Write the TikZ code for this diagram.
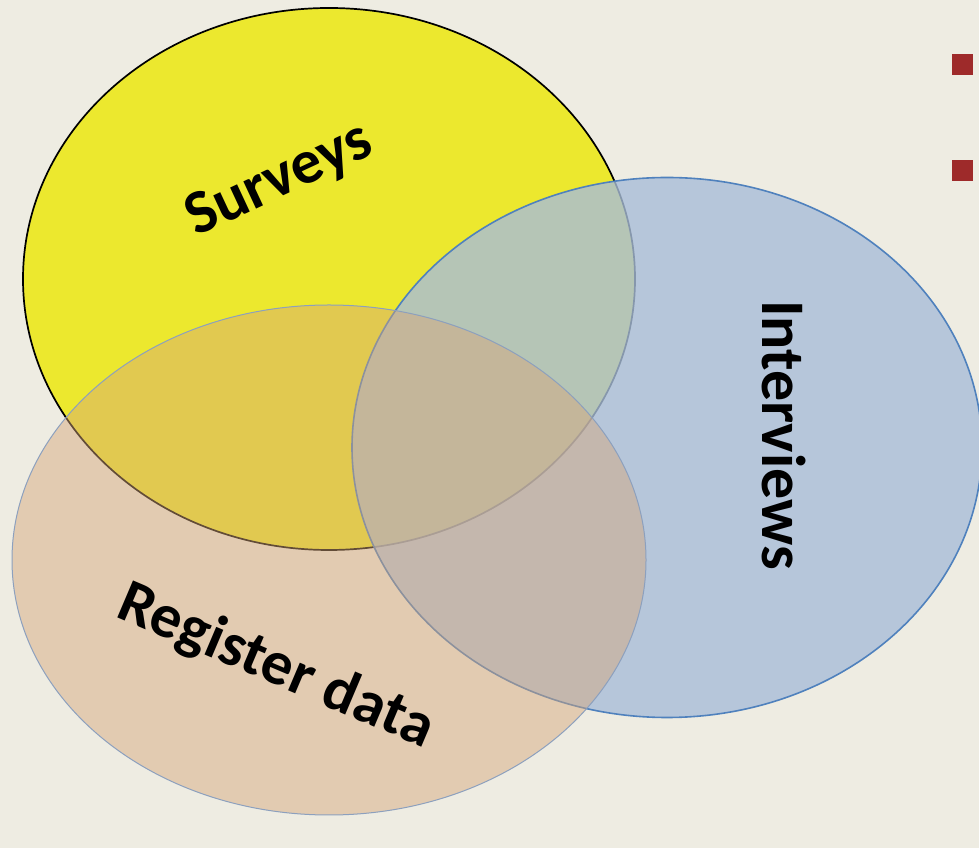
\documentclass[tikz,border=0pt]{standalone}
\usepackage{fontspec}
\setmainfont{Carlito}
\definecolor{bg}{RGB}{238,236,226}
\definecolor{survfill}{RGB}{236,232,46}
\definecolor{intfill}{RGB}{168,189,216}
\definecolor{intline}{RGB}{79,129,189}
\definecolor{regfill}{RGB}{214,166,121}
\definecolor{regline}{RGB}{140,160,190}
\definecolor{bulletred}{RGB}{158,42,42}
\tikzset{
  lbl/.style={font=\fontsize{62}{70}\selectfont\bfseries, text=black, inner sep=0pt},
  bulletsq/.style={rectangle, fill=bulletred, minimum size=21pt, inner sep=0pt},
}
\begin{document}
\begin{tikzpicture}[x=1pt,y=1pt]
\useasboundingbox (0,0) rectangle (979,848);
\fill[bg] (0,0) rectangle (979,848);
\clip (0,0) rectangle (979,848);
% Surveys (yellow)
\filldraw[fill=survfill, draw=black, line width=1.7pt] (329,569) ellipse [x radius=306, y radius=271];
% Interviews (blue)
\filldraw[fill=intfill, fill opacity=0.8, draw=intline, line width=1.6pt] (667,400.5) ellipse [x radius=315, y radius=270];
% Register data (tan)
\filldraw[fill=regfill, fill opacity=0.46, draw=regline, line width=1pt] (329,288) ellipse [x radius=317, y radius=255];
% labels
\node[lbl, rotate=25] (surveys) at (280,667) {Surveys};
\node[lbl, rotate=-90] (interviews) at (784,413) {Interviews};
\node[lbl, rotate=-23] (register) at (276,181) {Register data};
% bullets
\node[bulletsq] (b1) at (962.5,783.5) {};
\node[bulletsq] (b2) at (962.5,677.5) {};
\end{tikzpicture}
\end{document}
